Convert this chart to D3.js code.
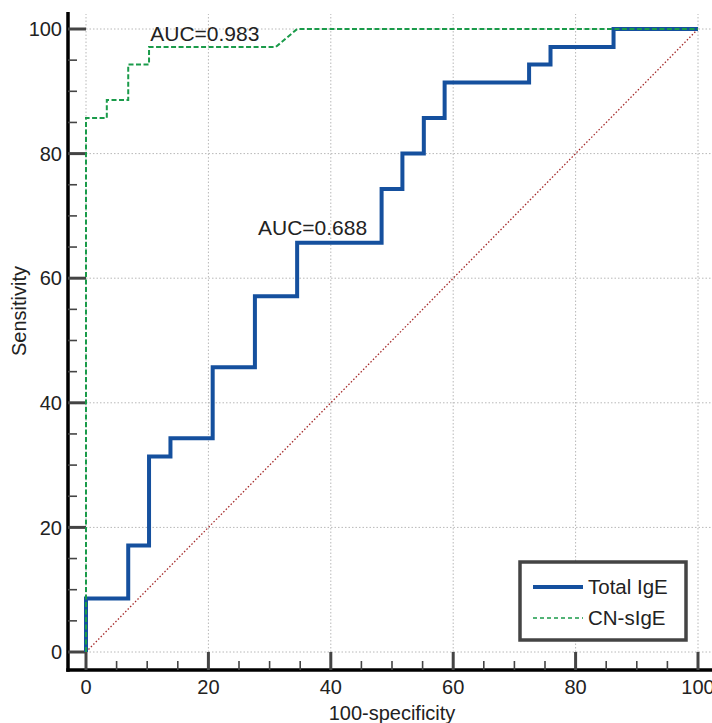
<!DOCTYPE html>
<head>
    <meta charset="utf-8">
    <script src="https://d3js.org/d3.v7.min.js"></script>
    <style>
        body { margin:0; background:#fff; }
        text { font-family: 'Liberation Sans', Arial, sans-serif; font-size: 20px; fill: #222; }
        .auc-label { font-size: 21px; }
        .legend-label { font-size: 20.5px; }
        .grid line { stroke: #b8b8b8; stroke-width: 1; stroke-dasharray: 1.5,2; }
        .axis-line { stroke: #000; stroke-width: 3.5; }
        .tick-major { stroke: #444; stroke-width: 3; }
        .tick-minor { stroke: #444; stroke-width: 1.6; }
        .line { fill: none; }
        .line--total { stroke: #15509e; stroke-width: 4; }
        .line--cn { stroke: #1a9b4a; stroke-width: 2; stroke-dasharray: 5,2.5; }
        .line--chance { stroke: #a52a2a; stroke-width: 1.3; stroke-dasharray: 1.5,2; }
        .legend-box { fill: #fff; stroke: #444; stroke-width: 3.5; }
    </style>
</head>

<body>
  <script>
    // ROC corner points (x = 100-specificity, y = sensitivity)
    const totalFpr = [0, 0, 6.9, 6.9, 10.3, 10.3, 13.8, 13.8, 20.7, 20.7, 27.6, 27.6, 34.5, 34.5,
                      48.3, 48.3, 51.7, 51.7, 55.2, 55.2, 58.6, 58.6, 72.4, 72.4, 75.9, 75.9, 86.2, 86.2, 100];
    const totalTpr = [0, 8.6, 8.6, 17.1, 17.1, 31.4, 31.4, 34.3, 34.3, 45.7, 45.7, 57.1, 57.1, 65.7,
                      65.7, 74.3, 74.3, 80.0, 80.0, 85.7, 85.7, 91.4, 91.4, 94.3, 94.3, 97.1, 97.1, 100, 100];

    const cnFpr = [0, 0, 3.4, 3.4, 6.9, 6.9, 10.3, 10.3, 31.0, 34.5, 100];
    const cnTpr = [0, 85.7, 85.7, 88.6, 88.6, 94.3, 94.3, 97.1, 97.1, 100, 100];

    const chanceFpr = [0, 100];
    const chanceTpr = [0, 100];

    const seriesNames = ['Total IgE', 'CN-sIgE'];
    const aucLabels = ['AUC=0.688', 'AUC=0.983'];
    const aucPos = [[28.1, 66.9], [10.5, 98.1]];

    const majorTicks = [0, 20, 40, 60, 80, 100];
    const minorTicks = d3.range(0, 101, 5).filter(d => d % 20 !== 0);

    const width = 712;
    const height = 723;
    const axisX = 68;     // y axis line position
    const axisY = 670;    // x axis line position

    const xScale = d3.scaleLinear().domain([0, 100]).range([86, 698]);
    const yScale = d3.scaleLinear().domain([0, 100]).range([652, 29]);

    const line = d3.line()
        .x(d => xScale(d[0]))
        .y(d => yScale(d[1]));

    const svg = d3.select('body').append('svg')
        .attr('width', width)
        .attr('height', height);

    // grid
    const grid = svg.append('g').attr('class', 'grid');
    grid.selectAll('.gx')
        .data(majorTicks)
        .enter().append('line')
        .attr('x1', d => xScale(d)).attr('x2', d => xScale(d))
        .attr('y1', yScale(0)).attr('y2', 14);
    grid.selectAll('.gy')
        .data(majorTicks)
        .enter().append('line')
        .attr('x1', xScale(0)).attr('x2', width)
        .attr('y1', d => yScale(d)).attr('y2', d => yScale(d));

    // axes
    const axes = svg.append('g');
    axes.append('line').attr('class', 'axis-line')
        .attr('x1', axisX).attr('x2', axisX).attr('y1', 12).attr('y2', axisY + 1.75);
    axes.append('line').attr('class', 'axis-line')
        .attr('x1', axisX - 1.75).attr('x2', width).attr('y1', axisY).attr('y2', axisY);

    axes.selectAll('.xmaj').data(majorTicks).enter().append('line')
        .attr('class', 'tick-major')
        .attr('x1', d => xScale(d)).attr('x2', d => xScale(d))
        .attr('y1', axisY).attr('y2', yScale(0));
    axes.selectAll('.xmin').data(minorTicks).enter().append('line')
        .attr('class', 'tick-minor')
        .attr('x1', d => xScale(d)).attr('x2', d => xScale(d))
        .attr('y1', axisY).attr('y2', axisY - 9);
    axes.selectAll('.ymaj').data(majorTicks).enter().append('line')
        .attr('class', 'tick-major')
        .attr('x1', axisX).attr('x2', xScale(0))
        .attr('y1', d => yScale(d)).attr('y2', d => yScale(d));
    axes.selectAll('.ymin').data(minorTicks).enter().append('line')
        .attr('class', 'tick-minor')
        .attr('x1', axisX).attr('x2', axisX + 9)
        .attr('y1', d => yScale(d)).attr('y2', d => yScale(d));

    axes.selectAll('.xlab').data(majorTicks).enter().append('text')
        .attr('x', d => xScale(d))
        .attr('y', 694)
        .attr('text-anchor', 'middle')
        .text(d => d);
    axes.selectAll('.ylab').data(majorTicks).enter().append('text')
        .attr('x', 62)
        .attr('y', d => yScale(d))
        .attr('dy', '0.36em')
        .attr('text-anchor', 'end')
        .text(d => d);

    svg.append('text')
        .attr('x', (xScale(0) + xScale(100)) / 2)
        .attr('y', 720)
        .attr('text-anchor', 'middle')
        .text('100-specificity');
    svg.append('text')
        .attr('transform', 'translate(26,311) rotate(-90)')
        .attr('text-anchor', 'middle')
        .text('Sensitivity');

    // curves
    svg.append('path')
        .datum(d3.zip(chanceFpr, chanceTpr))
        .attr('class', 'line line--chance')
        .attr('d', line);
    svg.append('path')
        .datum(d3.zip(totalFpr, totalTpr))
        .attr('class', 'line line--total')
        .attr('d', line);
    svg.append('path')
        .datum(d3.zip(cnFpr, cnTpr))
        .attr('class', 'line line--cn')
        .attr('d', line);

    svg.selectAll('.auc').data(aucLabels).enter().append('text')
        .attr('class', 'auc-label')
        .attr('x', (d, i) => xScale(aucPos[i][0]))
        .attr('y', (d, i) => yScale(aucPos[i][1]))
        .text(d => d);

    // legend
    const legend = svg.append('g').attr('transform', 'translate(520,562)');
    legend.append('rect').attr('class', 'legend-box')
        .attr('width', 166).attr('height', 78);
    const items = legend.selectAll('.item').data(seriesNames).enter().append('g')
        .attr('transform', (d, i) => `translate(0,${25 + i * 31})`);
    items.append('line')
        .attr('x1', 13).attr('x2', 63).attr('y1', 0).attr('y2', 0)
        .attr('stroke', (d, i) => i === 0 ? '#15509e' : '#1a9b4a')
        .attr('stroke-width', (d, i) => i === 0 ? 4 : 1.6)
        .attr('stroke-dasharray', (d, i) => i === 0 ? null : '4,3');
    items.append('text')
        .attr('class', 'legend-label')
        .attr('x', 68)
        .attr('y', 7)
        .text(d => d);
  </script>
</body>
